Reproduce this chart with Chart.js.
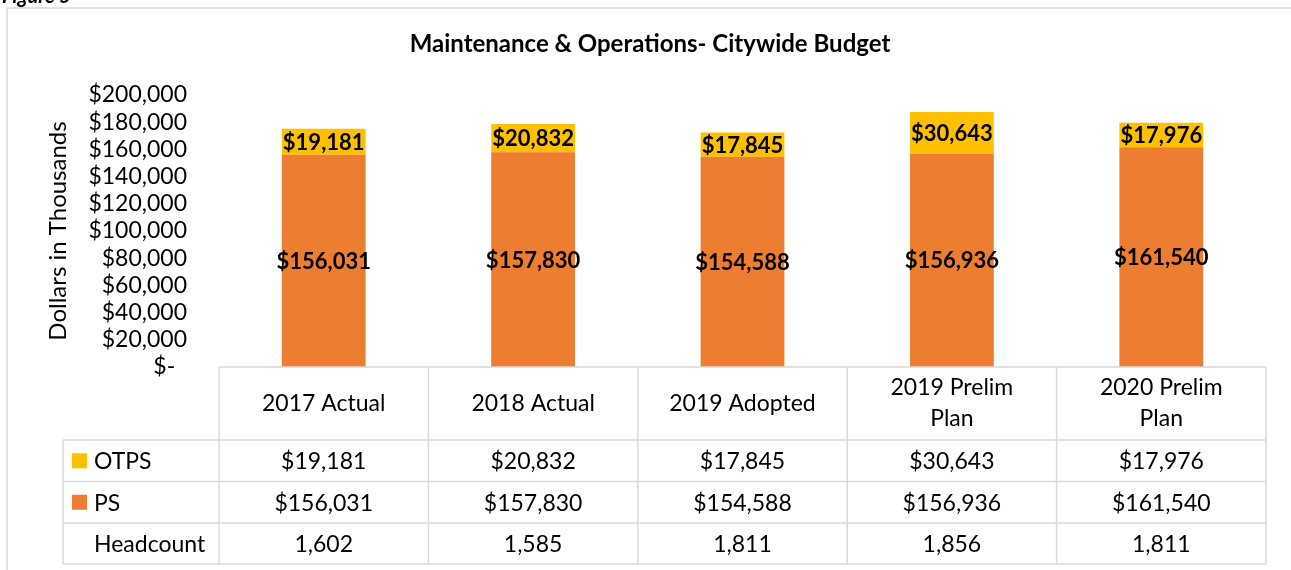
<!DOCTYPE html>
<html>
<head>
<meta charset="utf-8">
<title>Maintenance & Operations- Citywide Budget</title>
<script src="https://cdn.jsdelivr.net/npm/chart.js@4.4.1/dist/chart.umd.min.js"></script>
<style>
    html, body { margin: 0; padding: 0; background: #fff; overflow: hidden; }
    canvas { display: block; }
</style>
</head>
<body>
<canvas id="budget-chart" width="1291" height="570"></canvas>
<script>
// Chart data
const categories = [['2017 Actual'], ['2018 Actual'], ['2019 Adopted'], ['2019 Prelim', 'Plan'], ['2020 Prelim', 'Plan']];
const otps = [19181, 20832, 17845, 30643, 17976];
const ps = [156031, 157830, 154588, 156936, 161540];
const headcount = [1602, 1585, 1811, 1856, 1811];
const yMax = 200000;
const yStep = 20000;

const FONT = 'Lato, "Open Sans", sans-serif';
const GRID = '#d9d9d9';

function money(v) {
    return '$' + v.toLocaleString('en-US');
}

// Labels inside each bar segment
const barLabels = {
    id: 'barLabels',
    afterDatasetsDraw(chart) {
        const ctx = chart.ctx;
        ctx.save();
        ctx.font = 'bold 22px ' + FONT;
        ctx.fillStyle = '#000';
        ctx.textAlign = 'center';
        ctx.textBaseline = 'middle';
        chart.data.datasets.forEach((ds, di) => {
            chart.getDatasetMeta(di).data.forEach((bar, i) => {
                const mid = (bar.y + bar.base) / 2;
                ctx.fillText(money(ds.data[i]), bar.x, mid + 1);
            });
        });
        ctx.restore();
    }
};

// Frame, title and the data table under the plot
const tableAndFrame = {
    id: 'tableAndFrame',
    afterDraw(chart) {
        const ctx = chart.ctx;
        const area = chart.chartArea;
        const x = chart.scales.x;
        const n = categories.length;
        const colW = (area.right - area.left) / n;
        const tableLeft = 63;
        const headTop = area.bottom;
        const rowTops = [440, 481.5, 523, 564];

        ctx.save();

        // outer frame (left and top edges only)
        ctx.strokeStyle = GRID;
        ctx.lineWidth = 1.5;
        ctx.beginPath();
        ctx.moveTo(7, 570);
        ctx.lineTo(7, 8);
        ctx.lineTo(1291, 8);
        ctx.stroke();

        // cut-off figure caption at very top
        ctx.fillStyle = '#000';
        ctx.font = 'italic bold 20px ' + FONT;
        ctx.textAlign = 'left';
        ctx.textBaseline = 'alphabetic';
        ctx.fillText('Figure 5', 2, 3);

        // title
        ctx.font = 'bold 24px ' + FONT;
        ctx.textAlign = 'center';
        ctx.textBaseline = 'middle';
        ctx.fillText('Maintenance & Operations- Citywide Budget', 650, 44);

        // table grid
        ctx.strokeStyle = GRID;
        ctx.lineWidth = 1.5;
        ctx.beginPath();
        ctx.moveTo(area.left, headTop);
        ctx.lineTo(area.right, headTop);
        rowTops.forEach(y => {
            ctx.moveTo(tableLeft, y);
            ctx.lineTo(area.right, y);
        });
        ctx.moveTo(tableLeft, rowTops[0]);
        ctx.lineTo(tableLeft, rowTops[3]);
        for (let i = 0; i <= n; i++) {
            const cx = area.left + i * colW;
            ctx.moveTo(cx, headTop);
            ctx.lineTo(cx, rowTops[3]);
        }
        ctx.stroke();

        // header labels
        ctx.font = '23px ' + FONT;
        ctx.fillStyle = '#000';
        categories.forEach((lines, i) => {
            const cx = x.getPixelForValue(i);
            const cy = (headTop + rowTops[0]) / 2;
            const lh = 31;
            lines.forEach((t, k) => {
                ctx.fillText(t, cx, cy + (k - (lines.length - 1) / 2) * lh);
            });
        });

        // rows
        const rows = [
            { name: 'OTPS', color: '#FFC000', values: otps.map(money) },
            { name: 'PS', color: '#ED7D31', values: ps.map(money) },
            { name: 'Headcount', color: null, values: headcount.map(v => v.toLocaleString('en-US')) }
        ];
        rows.forEach((row, r) => {
            const cy = (rowTops[r] + rowTops[r + 1]) / 2;
            if (row.color) {
                ctx.fillStyle = row.color;
                ctx.fillRect(72, cy - 7.5, 15, 15);
            }
            ctx.fillStyle = '#000';
            ctx.textAlign = 'left';
            ctx.fillText(row.name, 94, cy + 1);
            ctx.textAlign = 'center';
            row.values.forEach((v, i) => {
                ctx.fillText(v, x.getPixelForValue(i), cy + 1);
            });
        });

        ctx.restore();
    }
};

const chart = new Chart(document.getElementById('budget-chart'), {
    type: 'bar',
    data: {
        labels: categories.map(c => c.join(' ')),
        datasets: [
            {
                label: 'PS',
                data: ps,
                backgroundColor: '#ED7D31',
                barPercentage: 0.4,
                categoryPercentage: 1,
            },
            {
                label: 'OTPS',
                data: otps,
                backgroundColor: '#FFC000',
                barPercentage: 0.4,
                categoryPercentage: 1,
            }
        ]
    },
    options: {
        responsive: false,
        animation: false,
        layout: { padding: { left: 44, right: 25, top: 95, bottom: 203 } },
        plugins: {
            legend: { display: false },
            title: { display: false },
            tooltip: { enabled: false }
        },
        scales: {
            x: {
                stacked: true,
                display: false
            },
            y: {
                stacked: true,
                min: 0,
                max: yMax,
                border: { display: false },
                grid: { display: false, drawTicks: false },
                ticks: {
                    stepSize: yStep,
                    autoSkip: false,
                    padding: 32,
                    color: '#000',
                    font: { family: FONT, size: 23 },
                    callback: v => v === 0 ? '$-  ' : money(v)
                },
                title: {
                    display: true,
                    text: 'Dollars in Thousands',
                    color: '#000',
                    font: { family: FONT, size: 24 },
                    padding: 0
                },
                afterFit(scale) { scale.width = 175; }
            }
        }
    },
    plugins: [barLabels, tableAndFrame]
});
</script>
</body>
</html>
